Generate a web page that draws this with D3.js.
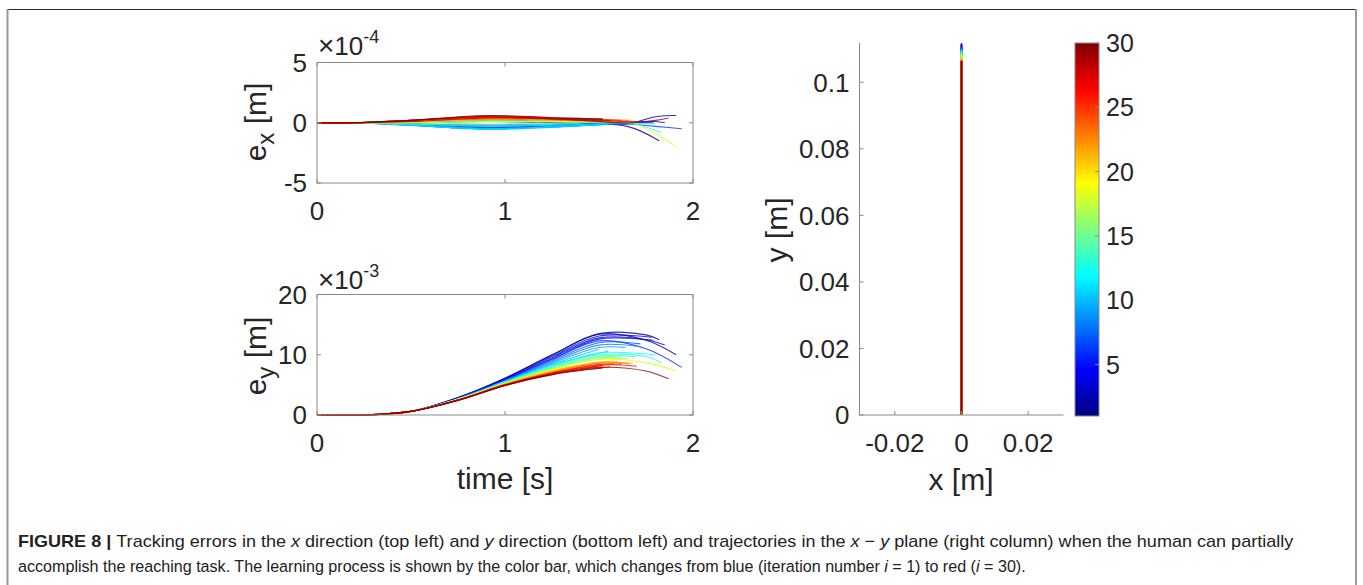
<!DOCTYPE html>
<html>
<head>
<meta charset="utf-8">
<script src="https://cdn.jsdelivr.net/npm/d3@7"></script>
<style>
  html, body { margin: 0; padding: 0; background: #ffffff; }
  svg { display: block; font-family: "Liberation Sans", Arial, Helvetica, sans-serif; }
</style>
</head>
<body>
<script>
// Iteration numbers of the learning process (colour index 1..30)
const iterations = [1,2,3,4,5,6,7,8,9,10,11,12,13,14,15,16,17,18,19,20,21,22,23,24,25,26,27,28,29,30];

// Time [s] at which each iteration's run ends
const endTime = [1.82,1.91,1.78,1.85,1.79,1.94,1.72,1.70,1.64,1.50,1.55,1.80,1.83,1.70,1.62,
                 1.60,1.66,1.91,1.58,1.55,1.60,1.68,1.66,1.58,1.62,1.70,1.52,1.56,1.87,1.52];

// Tracking error e_x (units of 1e-4 m) sampled at exKnots, then the final value at endTime
const exKnots = [0, 0.2, 0.5, 0.9, 1.3, 1.65, 1.8];
const exRows = [
  [0,0,-0.1,-0.2,-0.1,-0.3],
  [0,0,0.0,0.1,0.0,-0.1,0.5],
  [0,0,-0.1,-0.3,-0.2,0.0],
  [0,0,-0.1,-0.4,-0.2,0.0,0.1],
  [0,0,0.0,0.2,0.1,0.0],
  [0,0,-0.2,-0.5,-0.3,-0.1,-0.3],
  [0,0,-0.1,-0.3,-0.2,0.0],
  [0,0,-0.2,-0.45,-0.3],
  [0,0,-0.2,-0.5,-0.3],
  [0,0,-0.2,-0.55,-0.35],
  [0,0,-0.2,-0.5,-0.3],
  [0,0,-0.1,-0.3,-0.2,0.0],
  [0,0,-0.1,-0.2,-0.1,0.0],
  [0,0,0.0,0.1,0.1],
  [0,0,0.0,-0.1,0.0],
  [0,0,0.1,0.2,0.1],
  [0,0,0.1,0.3,0.2],
  [0,0,0.0,0.1,0.1,0.1,-0.9],
  [0,0,0.1,0.3,0.2],
  [0,0,0.1,0.35,0.25],
  [0,0,0.2,0.4,0.3],
  [0,0,0.2,0.4,0.3],
  [0,0,0.2,0.45,0.3],
  [0,0,0.1,0.3,0.2],
  [0,0,0.2,0.5,0.35],
  [0,0,0.2,0.45,0.3,0.1],
  [0,0,0.2,0.55,0.4],
  [0,0,0.1,0.4,0.3],
  [0,0,0.2,0.5,0.3,0.0,0.2],
  [0,0,0.2,0.6,0.4]
];
const exEnd = [-1.5,0.6,0.1,0.0,0.0,-0.5,0.1,0.0,-0.05,-0.15,-0.15,-0.1,-0.8,0.05,0.1,
               0.1,0.1,-2.0,0.15,0.15,0.2,0.15,0.2,0.15,0.2,0.1,0.3,0.2,0.4,0.3];

// Tracking error e_y (units of 1e-3 m) sampled at eyKnots, then the final value at endTime
const eyKnots = [0, 0.25, 0.5, 0.75, 1.0, 1.25, 1.5, 1.75];
const eyRows = [
  [0,0,0.6,2.9,6.1,10.0,13.5,13.3],
  [0,0,0.6,2.9,6.1,9.9,13.4,12.4],
  [0,0,0.6,2.8,6.0,9.7,13.1],
  [0,0,0.6,2.8,5.9,9.5,12.8,12.5],
  [0,0,0.6,2.8,5.9,9.3,12.6],
  [0,0,0.6,2.8,5.8,9.2,12.3,11.0],
  [0,0,0.6,2.7,5.7,9.0,12.0],
  [0,0,0.6,2.7,5.7,8.8,11.6],
  [0,0,0.6,2.7,5.6,8.6,11.2],
  [0,0,0.6,2.7,5.6,8.4],
  [0,0,0.6,2.7,5.5,8.3],
  [0,0,0.6,2.6,5.5,8.1,10.3],
  [0,0,0.6,2.6,5.4,8.0,10.0,9.7],
  [0,0,0.6,2.6,5.4,7.9,9.8],
  [0,0,0.6,2.6,5.3,7.8,9.6],
  [0,0,0.6,2.6,5.3,7.7,9.5],
  [0,0,0.6,2.6,5.3,7.6,9.3],
  [0,0,0.6,2.6,5.2,7.5,9.2,8.7],
  [0,0,0.6,2.6,5.2,7.4],
  [0,0,0.6,2.5,5.2,7.4],
  [0,0,0.6,2.5,5.1,7.3,8.8],
  [0,0,0.6,2.5,5.1,7.2,8.7],
  [0,0,0.6,2.5,5.1,7.1,8.6],
  [0,0,0.6,2.5,5.0,7.0],
  [0,0,0.6,2.5,5.0,7.0,8.4],
  [0,0,0.6,2.5,5.0,6.9,8.3],
  [0,0,0.6,2.5,5.0,6.9],
  [0,0,0.6,2.5,4.9,6.8],
  [0,0,0.6,2.4,4.9,6.7,7.9,7.3],
  [0,0,0.6,2.4,4.9,6.7]
];
const eyEnd = [12.5,10.0,12.9,11.6,12.4,7.9,11.8,11.4,11.2,10.9,10.6,10.0,8.7,9.7,9.6,
               9.5,9.3,7.3,9.0,8.9,8.9,8.6,8.5,8.5,8.4,8.1,8.2,8.0,6.0,7.8];

// Height [m] reached by each trajectory in the x-y plane (x stays at 0)
const trajTop = [0.1118,0.1116,0.1114,0.1112,0.1110,0.1108,0.1105,0.1102,0.1100,0.1098,
                 0.1097,0.1096,0.1094,0.1092,0.1090,0.1088,0.1086,0.1084,0.1082,0.1080,
                 0.1072,0.1070,0.1068,0.1067,0.1066,0.1065,0.1064,0.1063,0.1063,0.1062];

// Tick values and labels
const timeTicks = [0, 1, 2];
const timeTickLabels = ["0", "1", "2"];
const exTicks = [-5, 0, 5];
const exTickLabels = ["-5", "0", "5"];
const eyTicks = [0, 10, 20];
const eyTickLabels = ["0", "10", "20"];
const xyXTicks = [-0.02, 0, 0.02];
const xyXTickLabels = ["-0.02", "0", "0.02"];
const xyYTicks = [0, 0.02, 0.04, 0.06, 0.08, 0.1];
const xyYTickLabels = ["0", "0.02", "0.04", "0.06", "0.08", "0.1"];
const cbTicks = [5, 10, 15, 20, 25, 30];
const cbTickLabels = ["5", "10", "15", "20", "25", "30"];

// MATLAB "jet" colormap
function jet(t) {
  const c = v => Math.max(0, Math.min(1, v));
  const r = c(1.5 - Math.abs(4 * t - 3));
  const g = c(1.5 - Math.abs(4 * t - 2));
  const b = c(1.5 - Math.abs(4 * t - 1));
  return d3.rgb(r * 255, g * 255, b * 255).formatHex();
}
const iterColor = d3.scaleLinear().domain([1, 30]).range([0, 1]);
const colorOf = i => jet(iterColor(i));

const TXT = "#262626";
const AX = "#8a8a8a";
const TICK_FS = 26;
const LABEL_FS = 30;

const svg = d3.select("body").append("svg").attr("width", 1363).attr("height", 585);
svg.append("rect").attr("width", 1363).attr("height", 585).attr("fill", "#fff");

// page frame
svg.append("line").attr("x1", 7).attr("x2", 1356.5).attr("y1", 9.5).attr("y2", 9.5)
  .attr("stroke", "#2a2a2a").attr("stroke-width", 1.2);
svg.append("line").attr("x1", 7.5).attr("x2", 7.5).attr("y1", 9).attr("y2", 585)
  .attr("stroke", "#9a9a9a").attr("stroke-width", 2);
svg.append("line").attr("x1", 1356).attr("x2", 1356).attr("y1", 9).attr("y2", 585)
  .attr("stroke", "#9a9a9a").attr("stroke-width", 2);

// ---- helpers -------------------------------------------------------------
function drawTicksBox(g, x, y, xt, xl, yt, yl, box) {
  const [x0, x1] = x.range();
  const [y0, y1] = y.range(); // y0 bottom, y1 top
  const tl = 4;
  g.append("g").selectAll("line").data(xt).join("line")
    .attr("x1", d => x(d)).attr("x2", d => x(d))
    .attr("y1", y0).attr("y2", y0 - tl).attr("stroke", AX).attr("stroke-width", 1);
  if (box) {
    g.append("g").selectAll("line").data(xt).join("line")
      .attr("x1", d => x(d)).attr("x2", d => x(d))
      .attr("y1", y1).attr("y2", y1 + tl).attr("stroke", AX).attr("stroke-width", 1);
  }
  g.append("g").selectAll("line").data(yt).join("line")
    .attr("x1", x0).attr("x2", x0 + tl)
    .attr("y1", d => y(d)).attr("y2", d => y(d)).attr("stroke", AX).attr("stroke-width", 1);
  if (box) {
    g.append("g").selectAll("line").data(yt).join("line")
      .attr("x1", x1).attr("x2", x1 - tl)
      .attr("y1", d => y(d)).attr("y2", d => y(d)).attr("stroke", AX).attr("stroke-width", 1);
    g.append("rect").attr("x", x0).attr("y", y1).attr("width", x1 - x0).attr("height", y0 - y1)
      .attr("fill", "none").attr("stroke", AX).attr("stroke-width", 1);
  } else {
    g.append("line").attr("x1", x0).attr("x2", x1).attr("y1", y0).attr("y2", y0)
      .attr("stroke", AX).attr("stroke-width", 1);
    g.append("line").attr("x1", x0).attr("x2", x0).attr("y1", y0).attr("y2", y1)
      .attr("stroke", AX).attr("stroke-width", 1);
  }
  g.append("g").selectAll("text").data(xt).join("text")
    .attr("x", d => x(d)).attr("y", y0 + 36.5)
    .attr("text-anchor", "middle").attr("font-size", TICK_FS).attr("fill", TXT)
    .text((d, i) => xl[i]);
  g.append("g").selectAll("text").data(yt).join("text")
    .attr("x", x0 - 10).attr("y", d => y(d)).attr("dy", "0.36em")
    .attr("text-anchor", "end").attr("font-size", TICK_FS).attr("fill", TXT)
    .text((d, i) => yl[i]);
}

function exponentLabel(g, x, y, exp) {
  const t = g.append("text").attr("x", x).attr("y", y)
    .attr("font-size", TICK_FS).attr("fill", TXT);
  t.append("tspan").attr("font-size", 28).text("×");
  t.append("tspan").text("10");
  t.append("tspan").attr("dy", -12).attr("font-size", 18).text(exp);
}

function yLabel(g, cx, cy, main, sub) {
  const t = g.append("text").attr("transform", `translate(${cx},${cy}) rotate(-90)`)
    .attr("text-anchor", "middle").attr("font-size", LABEL_FS).attr("fill", TXT);
  t.append("tspan").text(main);
  if (sub) {
    t.append("tspan").attr("dy", 8).attr("font-size", 24).text(sub);
    t.append("tspan").attr("dy", -8).text(" [m]");
  } else {
    t.append("tspan").text(" [m]");
  }
}

const line = (xs, ys) => d3.line()
  .x(d => xs(d[0])).y(d => ys(d[1]))
  .curve(d3.curveCatmullRom.alpha(0.5));

// ---- top left: e_x ---------------------------------------------------------
const xT = d3.scaleLinear().domain([0, 2]).range([317, 693]);
const yEx = d3.scaleLinear().domain([-5, 5]).range([183, 62.5]);
const gEx = svg.append("g");
const exData = iterations.map((it, k) => {
  const pts = exRows[k].map((v, j) => [exKnots[j], v]);
  pts.push([endTime[k], exEnd[k]]);
  return { it, pts };
});
gEx.append("g").selectAll("path").data(exData).join("path")
  .attr("d", d => line(xT, yEx)(d.pts))
  .attr("fill", "none").attr("stroke", d => colorOf(d.it))
  .attr("stroke-width", 1.1).attr("stroke-opacity", 0.8);
drawTicksBox(gEx, xT, yEx, timeTicks, timeTickLabels, exTicks, exTickLabels, true);
exponentLabel(gEx, 318, 55, "-4");
yLabel(gEx, 266, 122, "e", "x");

// ---- bottom left: e_y ------------------------------------------------------
const yEy = d3.scaleLinear().domain([0, 20]).range([415, 294.5]);
const gEy = svg.append("g");
const eyData = iterations.map((it, k) => {
  const pts = eyRows[k].map((v, j) => [eyKnots[j], v]);
  pts.push([endTime[k], eyEnd[k]]);
  return { it, pts };
});
gEy.append("g").selectAll("path").data(eyData).join("path")
  .attr("d", d => line(xT, yEy)(d.pts))
  .attr("fill", "none").attr("stroke", d => colorOf(d.it))
  .attr("stroke-width", 1.1).attr("stroke-opacity", 0.8);
drawTicksBox(gEy, xT, yEy, timeTicks, timeTickLabels, eyTicks, eyTickLabels, true);
exponentLabel(gEy, 318, 289, "-3");
yLabel(gEy, 266, 356, "e", "y");
gEy.append("text").attr("x", 505).attr("y", 489).attr("text-anchor", "middle")
  .attr("font-size", LABEL_FS).attr("fill", TXT).text("time [s]");

// ---- right: x-y plane ------------------------------------------------------
const xXY = d3.scaleLinear().domain([-0.0306, 0.0306]).range([859.5, 1063.5]);
const yXY = d3.scaleLinear().domain([0, 0.1118]).range([415, 43]);
const gXY = svg.append("g");
gXY.append("g").selectAll("path").data(iterations).join("path")
  .attr("d", (it, k) => d3.line().x(d => xXY(d[0])).y(d => yXY(d[1]))([[0, 0], [0, trajTop[k]]]))
  .attr("fill", "none").attr("stroke", it => colorOf(it))
  .attr("stroke-width", 1.5).attr("stroke-opacity", 0.75);
drawTicksBox(gXY, xXY, yXY, xyXTicks, xyXTickLabels, xyYTicks, xyYTickLabels, false);
gXY.append("text").attr("x", 961).attr("y", 490).attr("text-anchor", "middle")
  .attr("font-size", LABEL_FS).attr("fill", TXT).text("x [m]");
yLabel(gXY, 787, 230, "y", null);

// ---- colorbar --------------------------------------------------------------
const cb = d3.scaleLinear().domain([1, 30]).range([416, 43]);
const defs = svg.append("defs");
const grad = defs.append("linearGradient").attr("id", "jetbar")
  .attr("x1", 0).attr("y1", 1).attr("x2", 0).attr("y2", 0);
const stops = [0, 0.125, 0.375, 0.625, 0.875, 1];
grad.selectAll("stop").data(stops).join("stop")
  .attr("offset", d => d).attr("stop-color", d => jet(d));
const cbX0 = 1075, cbX1 = 1099;
svg.append("rect").attr("x", cbX0).attr("y", cb(30)).attr("width", cbX1 - cbX0)
  .attr("height", cb(1) - cb(30)).attr("fill", "url(#jetbar)")
  .attr("stroke", AX).attr("stroke-width", 1);
svg.append("g").selectAll("line").data(cbTicks).join("line")
  .attr("x1", cbX1).attr("x2", cbX1 - 4).attr("y1", d => cb(d)).attr("y2", d => cb(d))
  .attr("stroke", AX).attr("stroke-width", 1);
svg.append("g").selectAll("text").data(cbTicks).join("text")
  .attr("x", 1106).attr("y", d => cb(d)).attr("dy", "0.36em")
  .attr("font-size", 25).attr("fill", TXT).text((d, i) => cbTickLabels[i]);

// ---- caption ---------------------------------------------------------------
// Each caption line is set in one text element, then squeezed horizontally
// to the column width so the narrow caption face is approximated.
function captionLine(y, width, parts) {
  const g = svg.append("g").attr("transform", `translate(18,${y})`);
  const t = g.append("text").attr("x", 0).attr("y", 0).attr("font-size", 17).attr("fill", "#222");
  parts.forEach(p => {
    const s = t.append("tspan").text(p.t);
    if (p.b) s.attr("font-weight", "bold");
    if (p.i) s.attr("font-style", "italic");
  });
  const w = t.node().getComputedTextLength();
  g.attr("transform", `translate(18,${y}) scale(${width / w},1)`);
}
captionLine(547, 1277, [
  { t: "FIGURE 8 | ", b: true },
  { t: "Tracking errors in the " }, { t: "x", i: true },
  { t: " direction (top left) and " }, { t: "y", i: true },
  { t: " direction (bottom left) and trajectories in the " }, { t: "x", i: true },
  { t: " − " }, { t: "y", i: true },
  { t: " plane (right column) when the human can partially" }
]);
captionLine(572, 1009, [
  { t: "accomplish the reaching task. The learning process is shown by the color bar, which changes from blue (iteration number " },
  { t: "i", i: true }, { t: " = 1) to red (" }, { t: "i", i: true }, { t: " = 30)." }
]);
</script>
</body>
</html>
